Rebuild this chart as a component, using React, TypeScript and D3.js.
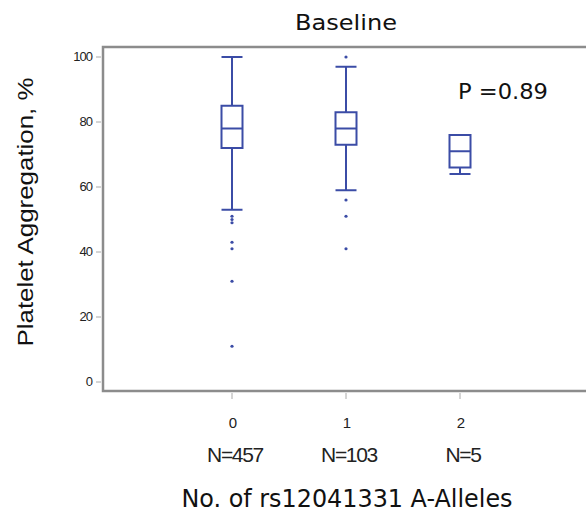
import React from 'react';
import { scaleBand, scaleLinear } from 'd3';

// values
const alleles = ['0', '1', '2'];
const counts = [457, 103, 5];
const whiskerHigh = [100, 97, 76];
const q3 = [85, 83, 76];
const median = [78, 78, 71];
const q1 = [72, 73, 66];
const whiskerLow = [53, 59, 64];
const outliers = [
  [51, 50, 49, 43, 41, 31, 11],
  [100, 56, 51, 41],
  [],
];
const yTicks = [0, 20, 40, 60, 80, 100];

const blue = '#3b4ca6';
const frame = '#8c8c8c';

const App = () => {
  const width = 586;
  const height = 513;
  const margin = { top: 47, right: 0, bottom: 391, left: 103 };

  const xScale = scaleBand().domain(alleles).range([175, 517]);
  const yScale = scaleLinear().domain([0, 100]).range([382, 57]);
  const boxW = 21;

  const cx = (a) => xScale(a) + xScale.bandwidth() / 2;

  return (
    <svg width={width} height={height} style={{ position: 'absolute', left: 0, top: 0 }}>
      <rect width={width} height={height} fill="white" />
      <text x={346} y={30} fontFamily="DejaVu Sans" fontSize={21} textAnchor="middle" textLength={102}
        lengthAdjust="spacingAndGlyphs" fill="#111">Baseline</text>

      {/* frame */}
      <path
        d={`M ${width} ${margin.top} H ${margin.left} V ${margin.bottom} H ${width}`}
        stroke={frame}
        strokeWidth={2.5}
        fill="none"
      />

      {/* y axis */}
      {yTicks.map(t => (
        <g key={t} transform={`translate(0, ${yScale(t)})`}>
          <line x1={96} x2={101} stroke="#aaa" />
          <text x={92} y={4} textAnchor="end" fontFamily="Liberation Sans" fontSize={13}
            letterSpacing={-1} fill="#222">{t}</text>
        </g>
      ))}

      {/* x axis */}
      {alleles.map((a, i) => (
        <g key={a} transform={`translate(${cx(a)}, 0)`}>
          <line y1={393} y2={399} stroke="#aaa" />
          <text x={1} y={428} textAnchor="middle" fontFamily="Liberation Sans" fontSize={15} fill="#222">{a}</text>
          <text x={3} y={462} textAnchor="middle" fontFamily="Liberation Sans" fontSize={21}
            letterSpacing={-1.3} fill="#222">{`N=${counts[i]}`}</text>
        </g>
      ))}

      {/* boxes */}
      {alleles.map((a, i) => {
        const x = cx(a);
        return (
          <g key={a} stroke={blue} strokeWidth={2} fill="none">
            {whiskerHigh[i] > q3[i] && (
              <>
                <line x1={x} x2={x} y1={yScale(q3[i])} y2={yScale(whiskerHigh[i])} />
                <line x1={x - boxW / 2} x2={x + boxW / 2} y1={yScale(whiskerHigh[i])} y2={yScale(whiskerHigh[i])} />
              </>
            )}
            <line x1={x} x2={x} y1={yScale(q1[i])} y2={yScale(whiskerLow[i])} />
            <line x1={x - boxW / 2} x2={x + boxW / 2} y1={yScale(whiskerLow[i])} y2={yScale(whiskerLow[i])} />
            <rect x={x - boxW / 2} y={yScale(q3[i])} width={boxW} height={yScale(q1[i]) - yScale(q3[i])} />
            <line x1={x - boxW / 2} x2={x + boxW / 2} y1={yScale(median[i])} y2={yScale(median[i])} />
            {outliers[i].map((o, j) => (
              <circle key={j} cx={x} cy={yScale(o)} r={1.6} fill={blue} stroke="none" />
            ))}
          </g>
        );
      })}

      <text x={458} y={99} fontFamily="DejaVu Sans" fontSize={21} textLength={90}
        lengthAdjust="spacingAndGlyphs" fill="#111">P =0.89</text>

      <text x={347} y={507} textAnchor="middle" fontFamily="DejaVu Sans" fontSize={24} textLength={331}
        lengthAdjust="spacingAndGlyphs" fill="#111">No. of rs12041331 A-Alleles</text>

      <text transform={`translate(33, 212) rotate(-90)`} textAnchor="middle" fontFamily="Liberation Sans"
        fontSize={22} textLength={269} lengthAdjust="spacingAndGlyphs" fill="#111">Platelet Aggregation, %</text>
    </svg>
  );
};

export default App;
